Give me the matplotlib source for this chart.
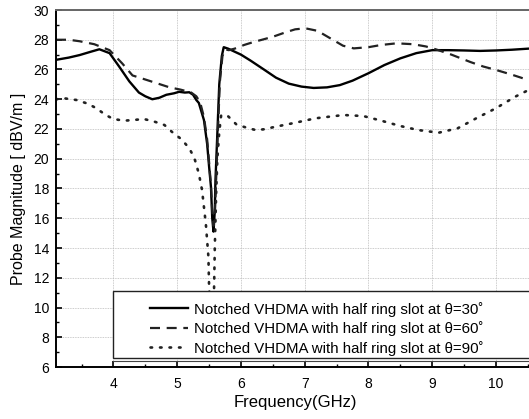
import matplotlib
matplotlib.use("Agg")
import matplotlib.pyplot as plt
from matplotlib.ticker import MultipleLocator
from matplotlib.patches import Rectangle

plt.rcParams['font.family'] = ['Liberation Sans', 'DejaVu Sans']

# theta = 30 deg (solid)
f30 = [3.1, 3.3, 3.47, 3.65, 3.78, 3.94, 4.09, 4.25, 4.4, 4.5, 4.61, 4.72, 4.83, 4.95, 5.03, 5.12, 5.19,
       5.25, 5.3, 5.34, 5.42, 5.47, 5.5, 5.53, 5.55, 5.57, 5.59, 5.6, 5.63, 5.66, 5.7, 5.73, 5.8, 5.9,
       6.0, 6.15, 6.36, 6.55, 6.75, 6.95, 7.14, 7.35, 7.55, 7.75, 8.0, 8.25, 8.5, 8.75, 9.0, 9.25,
       9.5, 9.75, 10.0, 10.25, 10.5]
v30 = [26.65, 26.8, 26.97, 27.2, 27.36, 27.1, 26.2, 25.2, 24.45, 24.2, 24.0, 24.1, 24.3, 24.4, 24.5, 24.45, 24.47,
       24.3, 23.95, 23.75, 22.6, 21.0, 19.5, 18.1, 16.0, 15.1, 16.5, 18.5, 21.7, 25.0, 26.9, 27.5, 27.4, 27.2,
       27.0, 26.6, 26.0, 25.45, 25.05, 24.85, 24.76, 24.8, 24.95, 25.25, 25.75, 26.3, 26.75, 27.1, 27.3, 27.3,
       27.28, 27.25, 27.28, 27.33, 27.4]

# theta = 60 deg (dashed)
f60 = [3.1, 3.3, 3.47, 3.7, 3.94, 4.14, 4.3, 4.52, 4.7, 4.88, 5.05, 5.14, 5.22, 5.3, 5.36, 5.42, 5.47, 5.5,
       5.53, 5.55, 5.57, 5.59, 5.61, 5.64, 5.67, 5.71, 5.75, 5.81, 5.9, 6.05, 6.2, 6.33, 6.5, 6.7, 6.85,
       7.01, 7.2, 7.4, 7.6, 7.77, 8.0, 8.2, 8.44, 8.7, 8.9, 9.06, 9.3, 9.6, 9.8, 10.0, 10.25, 10.5]
v60 = [28.0, 28.0, 27.9, 27.7, 27.3, 26.4, 25.6, 25.3, 25.05, 24.8, 24.65, 24.55, 24.45, 24.2, 23.8, 22.8, 21.3, 19.8,
       18.2, 16.5, 15.5, 16.2, 18.5, 22.0, 25.2, 26.9, 27.35, 27.3, 27.4, 27.65, 27.85, 28.0, 28.2, 28.5, 28.7,
       28.77, 28.6, 28.1, 27.6, 27.42, 27.5, 27.65, 27.76, 27.7, 27.55, 27.35, 27.0, 26.5, 26.2, 25.97, 25.65, 25.3]

# theta = 90 deg (dotted)
f90 = [3.1, 3.25, 3.42, 3.6, 3.73, 3.88, 4.0, 4.17, 4.3, 4.48, 4.64, 4.8, 4.92, 5.07, 5.19, 5.27, 5.34, 5.39,
       5.45, 5.49, 5.5, 5.52, 5.55, 5.57, 5.58, 5.59, 5.61, 5.63, 5.66, 5.69, 5.8, 5.93, 6.08, 6.23, 6.36,
       6.54, 6.85, 7.17, 7.61, 7.92, 8.2, 8.5, 8.78, 9.1, 9.4, 9.69, 10.0, 10.3, 10.5]
v90 = [24.0, 24.05, 23.95, 23.7, 23.4, 22.94, 22.67, 22.56, 22.6, 22.67, 22.5, 22.27, 21.8, 21.3, 20.7, 20.05, 19.0, 17.9,
       15.6, 13.4, 11.5, 9.5, 8.0, 9.5, 11.6, 14.0, 17.5, 20.0, 21.8, 22.94, 22.85, 22.3, 22.1, 21.93, 21.98,
       22.15, 22.42, 22.72, 22.94, 22.87, 22.56, 22.2, 21.93, 21.75, 22.05, 22.72, 23.4, 24.17, 24.6]

labels = ['Notched VHDMA with half ring slot at \u03b8=30\u02da',
          'Notched VHDMA with half ring slot at \u03b8=60\u02da',
          'Notched VHDMA with half ring slot at \u03b8=90\u02da']

fig = plt.figure(figsize=(5.29, 4.19), dpi=100)
ax = fig.add_axes([56/529, 1-367/419, (529-56)/529 + 0.01, (367-10)/419])

ax.plot(f30, v30, color='black', lw=1.7, ls='-', label=labels[0])
ax.plot(f60, v60, color='#222222', lw=1.6, ls=(0, (4.5, 3)), label=labels[1])
ax.plot(f90, v90, color='#222222', lw=1.9, ls=(0, (0.6, 3.0)), dash_capstyle='round', label=labels[2])

ax.set_xlim(3.1, 10.6)
ax.set_ylim(6, 30)
ax.xaxis.set_major_locator(MultipleLocator(1))
ax.xaxis.set_minor_locator(MultipleLocator(0.5))
ax.yaxis.set_major_locator(MultipleLocator(2))
ax.yaxis.set_minor_locator(MultipleLocator(1))
ax.tick_params(which='both', direction='in', labelsize=10, colors='black')
ax.tick_params(which='major', length=4, width=1.2)
ax.tick_params(which='minor', length=2.5, width=1)
ax.tick_params(axis='x', pad=7)
ax.tick_params(axis='y', pad=5)
ax.grid(True, which='major', color='#bbbbbb', ls=(0, (1, 1)), lw=0.6)
ax.spines['right'].set_visible(False)
for s in ['left', 'bottom', 'top']:
    ax.spines[s].set_linewidth(1.4)
ax.spines['top'].set_color('#666666')

ax.set_xlabel('Frequency(GHz)', fontsize=12, labelpad=3)
ax.set_ylabel('Probe Magnitude [ dBV/m ]', fontsize=11.5, labelpad=5)

# legend box
x0, x1 = 4.0, 10.58
rect = Rectangle((x0, 6.6), x1 - x0, 11.1 - 6.6, facecolor='white', edgecolor='#222222', lw=1.0, zorder=5)
ax.add_patch(rect)
ax.plot([x0, x1], [6.37, 6.37], color='#444444', lw=0.8, zorder=5, clip_on=False)
leg = ax.legend(loc='center', bbox_to_anchor=((4.55 - 3.1) / 7.5 + 0.352, (8.58 - 6) / 24), frameon=False,
                fontsize=10.8, handlelength=2.5, handletextpad=0.4, labelspacing=0.3)
leg.set_zorder(6)

fig.savefig('out.png', dpi=100)
